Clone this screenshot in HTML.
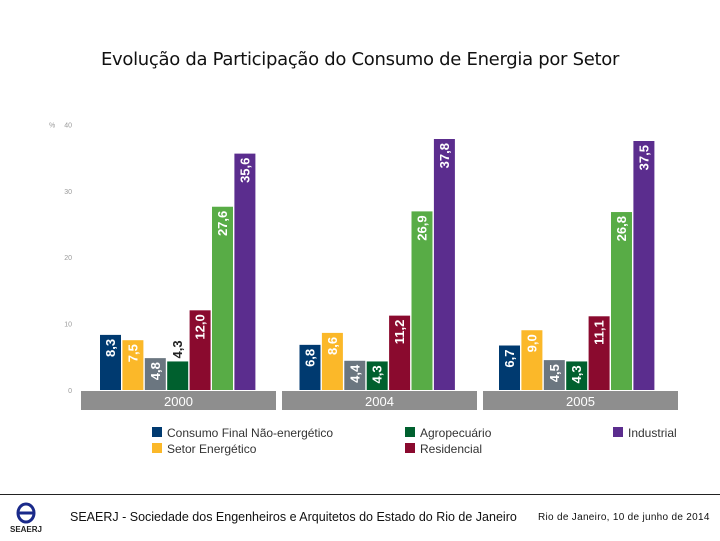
<!DOCTYPE html>
<html><head><meta charset="utf-8"><style>
body{margin:0;width:720px;height:540px;background:#fff;overflow:hidden;font-family:"Liberation Sans",sans-serif;position:relative}
</style></head><body>
<div style="position:absolute;left:0;width:720px;top:49px;text-align:center;font-size:18px;color:#111;font-family:'DejaVu Sans','Liberation Sans',sans-serif;letter-spacing:-0.3px">Evolução da Participação do Consumo de Energia por Setor</div>
<svg id="chart" width="720" height="540" style="position:absolute;left:0;top:0"></svg>
<div style="position:absolute;left:0;top:494px;width:720px;height:1px;background:#222"></div>
<div style="position:absolute;left:8px;top:500px;width:36px;height:36px">
<svg width="36" height="36"><ellipse cx="18" cy="13" rx="8" ry="9" fill="none" stroke="#1a2a8a" stroke-width="3"/><line x1="9" y1="13" x2="27" y2="13" stroke="#1a2a8a" stroke-width="3"/><text x="18" y="32" font-size="8" font-weight="bold" text-anchor="middle" fill="#222" font-family="Liberation Sans">SEAERJ</text></svg></div>
<div style="position:absolute;left:70px;top:510px;font-size:12.5px;color:#111;white-space:nowrap">SEAERJ - Sociedade dos Engenheiros e Arquitetos do Estado do Rio de Janeiro</div>
<div style="position:absolute;left:538px;top:512px;font-size:10px;color:#111;letter-spacing:0.3px;white-space:nowrap">Rio de Janeiro, 10 de junho de 2014</div>
<script>
const years=["2000","2004","2005"];
const sectors=["Consumo Final Não-energético","Setor Energético","Comercial e Público","Agropecuário","Residencial","Transportes","Industrial"];
const colors=["#003a70","#fbb829","#6b7680","#00602e","#8a0a2e","#58ac46","#5b2d8e"];
const v2000=[8.3,7.5,4.8,4.3,12.0,27.6,35.6];
const v2004=[6.8,8.6,4.4,4.3,11.2,26.9,37.8];
const v2005=[6.7,9.0,4.5,4.3,11.1,26.8,37.5];
const out2000=[0,0,0,1,0,0,0];
const out2004=[0,0,0,0,0,0,0];
const out2005=[0,0,0,0,0,0,0];
const yTicks=[0,10,20,30,40];
const series=[v2000,v2004,v2005];
const outs=[out2000,out2004,out2005];
const svg=document.getElementById('chart');
const NS="http://www.w3.org/2000/svg";
const y0=390,pxPer=6.64;
function yS(v){return y0-v*pxPer;}
function xS(g,i){return 100+g*199.5+i*22.4;}
function mk(t,a){const e=document.createElementNS(NS,t);for(const k in a)e.setAttribute(k,a[k]);svg.appendChild(e);return e;}
yTicks.forEach((t,i)=>{const e=mk('text',{x:72,y:yS(t)+3,'font-size':7,fill:'#999','text-anchor':'end'});e.textContent=t;

});
const pc=mk('text',{x:49,y:yS(40)+3,'font-size':7,fill:'#999'});pc.textContent='%';


years.forEach((yr,g)=>{
 const bx=81+g*201;
 const band=mk('rect',{x:bx,y:391,width:195,height:19,fill:'#8e8e8e'});
 
 
 const yt=mk('text',{x:bx+97.5,y:406,'font-size':13,fill:'#fff','text-anchor':'middle'});yt.textContent=yr;
 
 
 series[g].forEach((v,i)=>{
  const x=xS(g,i),y=yS(v);
  const r=mk('rect',{x:x,y:y,width:21,height:y0-y,fill:colors[i]});
  
  
  const outside=outs[g][i]===1;
  const ty=outside?y-3:y+4;
  const t=mk('text',{x:0,y:0,'font-size':13,'font-weight':'bold',fill:outside?'#222':'#fff','text-anchor':outside?'start':'end',transform:`translate(${x+15},${ty}) rotate(-90)`});
  t.textContent=v.toFixed(1).replace('.',',');
  
  
 });
});
const lx=[152,405,613],ly=[432,448,464];
sectors.forEach((s,i)=>{
 const col=i<3?0:(i<6?1:2),row=i<3?i:(i<6?i-3:0);
 const g=document.createElementNS(NS,'g');
 
 
 const r=document.createElementNS(NS,'rect');
 r.setAttribute('x',lx[col]);r.setAttribute('y',ly[row]-5);r.setAttribute('width',10);r.setAttribute('height',10);r.setAttribute('fill',colors[i]);
 const t=document.createElementNS(NS,'text');
 t.setAttribute('x',lx[col]+15);t.setAttribute('y',ly[row]+5);t.setAttribute('font-size',12);t.setAttribute('fill','#333');
 t.setAttribute('textLength', 0);t.removeAttribute('textLength');
 t.textContent=s;g.appendChild(r);g.appendChild(t);svg.appendChild(g);
});
const cover=mk('rect',{x:140,y:459,width:560,height:30,fill:'#fff'});


</script>
</body></html>
